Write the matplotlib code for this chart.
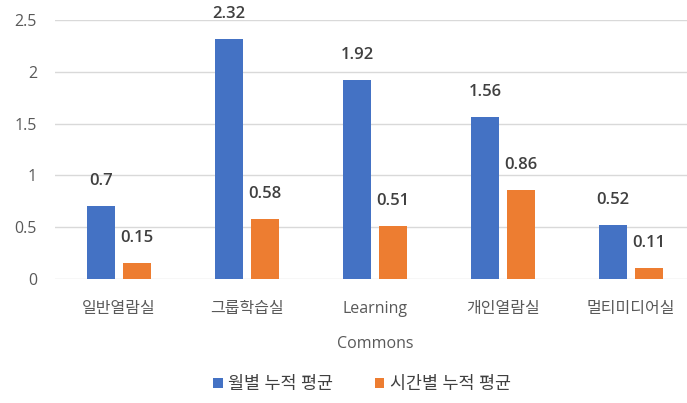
import matplotlib
matplotlib.use("Agg")
import matplotlib.pyplot as plt
import numpy as np

plt.rcParams['font.family'] = ['Open Sans', 'Noto Sans CJK KR', 'DejaVu Sans']

categories = ['일반열람실', '그룹학습실', 'Learning\nCommons', '개인열람실', '멀티미디어실']
monthly = [0.7, 2.32, 1.92, 1.56, 0.52]
hourly = [0.15, 0.58, 0.51, 0.86, 0.11]
series_names = ['월별 누적 평균', '시간별 누적 평균']

blue = '#4472C4'
orange = '#ED7D31'

fig = plt.figure(figsize=(6.87, 4.03), dpi=100)
ax = fig.add_axes([55 / 687, (403 - 279) / 403, 640 / 687, 259 / 403])

x = np.arange(len(categories))
w = 0.225
off = 0.14
b1 = ax.bar(x - off, monthly, w, color=blue, label=series_names[0], zorder=3)
b2 = ax.bar(x + off, hourly, w, color=orange, label=series_names[1], zorder=3)

for bars, vals in [(b1, monthly), (b2, hourly)]:
    for rect, v in zip(bars, vals):
        ax.annotate(f'{v:g}', (rect.get_x() + rect.get_width() / 2, v),
                    xytext=(0, 18), textcoords='offset points',
                    ha='center', va='center', fontsize=12, color='#404040',
                    fontweight='semibold')

ax.set_xlim(-0.5, 4.5)
ax.set_ylim(0, 2.5)
ax.set_yticks([0, 0.5, 1, 1.5, 2, 2.5])
ax.set_yticklabels(['0', '0.5', '1', '1.5', '2', '2.5'])
ax.set_xticks(x)
ax.set_xticklabels(categories, linespacing=2.6)
ax.tick_params(axis='both', length=0, labelsize=11.5, labelcolor='#595959')
ax.tick_params(axis='x', pad=16)
ax.tick_params(axis='y', pad=13)
ax.grid(axis='y', color='#d9d9d9', linewidth=1, zorder=0)
for s in ax.spines.values():
    s.set_visible(False)

fig.legend(handles=[b1, b2], loc='center', bbox_to_anchor=(362 / 687, 1 - 385 / 403),
           ncol=2, frameon=False, fontsize=12.5, handlelength=0.55, handleheight=0.55,
           handletextpad=0.3, columnspacing=2.4, labelcolor='#404040')

fig.savefig('out.png', dpi=100)
